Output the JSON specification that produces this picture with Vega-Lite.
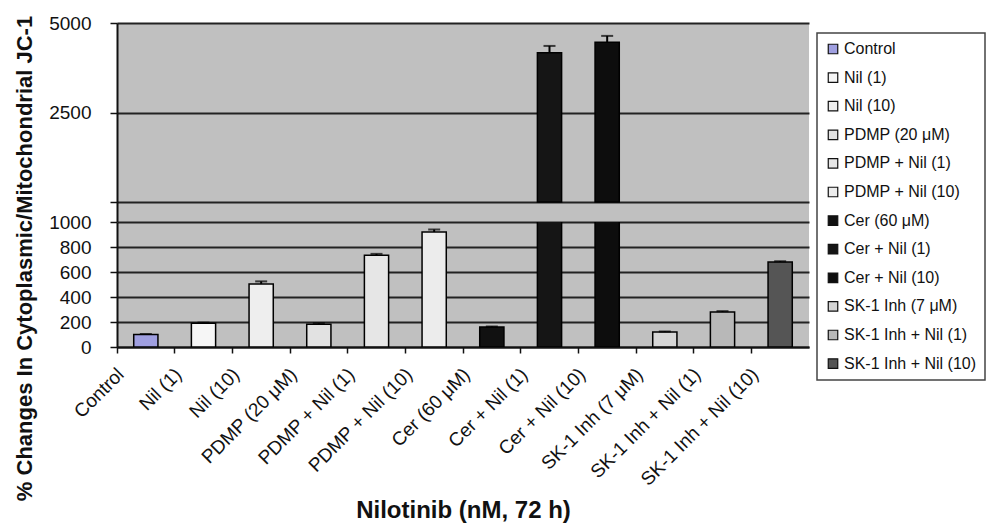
{
  "$schema": "https://vega.github.io/schema/vega-lite/v6.json",
  "background": "#ffffff",
  "padding": {"left": 13, "top": 14, "right": 0, "bottom": 0},
  "bounds": "flush",
  "title": {"text": "% Changes In Cytoplasmic/Mitochondrial JC-1", "orient": "left", "anchor": "middle", "font": "Liberation Sans", "fontSize": 22, "fontWeight": "bold", "color": "#111111", "offset": 12, "dx": 10},
  "data": {"values": [
    {"cat": "Control", "value": 100, "hi": 104},
    {"cat": "Nil (1)", "value": 190, "hi": 195},
    {"cat": "Nil (10)", "value": 505, "hi": 525},
    {"cat": "PDMP (20 μM)", "value": 182, "hi": 190},
    {"cat": "PDMP + Nil (1)", "value": 735, "hi": 745},
    {"cat": "PDMP + Nil (10)", "value": 920, "hi": 940},
    {"cat": "Cer (60 μM)", "value": 160, "hi": 164},
    {"cat": "Cer + Nil (1)", "value": 4170, "hi": 4360},
    {"cat": "Cer + Nil (10)", "value": 4460, "hi": 4640},
    {"cat": "SK-1 Inh (7 μM)", "value": 120, "hi": 124},
    {"cat": "SK-1 Inh + Nil (1)", "value": 280, "hi": 287},
    {"cat": "SK-1 Inh + Nil (10)", "value": 680, "hi": 686}
  ]},
  "spacing": 0,
  "resolve": {"scale": {"x": "shared", "y": "independent", "color": "shared"}},
  "config": {
    "font": "Liberation Sans",
    "view": {"fill": "#c0c0c0", "stroke": null},
    "axis": {"labelFont": "Liberation Sans", "labelColor": "#111111", "titleFont": "Liberation Sans", "titleColor": "#111111"},
    "legend": {"orient": "none", "legendX": 700, "legendY": 10, "strokeColor": "#444444", "strokeWidth": 1.5, "padding": 8, "fillColor": "#ffffff",
      "symbolType": "square", "symbolSize": 90, "symbolStrokeColor": "#111111", "symbolStrokeWidth": 1.2, "symbolOpacity": 1,
      "labelFont": "Liberation Sans", "labelFontSize": 16, "labelColor": "#111111", "labelOffset": 3, "rowPadding": 12.6, "labelLimit": 300}
  },
  "vconcat": [
    {
      "width": 692,
      "height": 199,
      "transform": [{"filter": "datum.value > 1000"}],
      "encoding": {
        "x": {"field": "cat", "type": "nominal", "axis": null,
          "scale": {"domain": ["Control", "Nil (1)", "Nil (10)", "PDMP (20 μM)", "PDMP + Nil (1)", "PDMP + Nil (10)", "Cer (60 μM)", "Cer + Nil (1)", "Cer + Nil (10)", "SK-1 Inh (7 μM)", "SK-1 Inh + Nil (1)", "SK-1 Inh + Nil (10)"], "paddingInner": 0, "paddingOuter": 0}}
      },
      "layer": [
        {
          "mark": {"type": "bar", "width": {"band": 0.42}, "stroke": "#000000", "strokeWidth": 1.5},
          "encoding": {
            "y": {"field": "value", "type": "quantitative", "title": null,
              "scale": {"domain": [-556, 5000], "nice": false, "zero": false},
              "axis": {"values": [0, 2500, 5000], "labelExpr": "datum.value == 0 ? '' : datum.label", "format": "d", "labelOverlap": false, "labelFontSize": 19, "labelPadding": 19,
                "domainColor": "#111111", "domainWidth": 2, "tickColor": "#111111", "tickWidth": 1.5, "tickSize": 7,
                "grid": true, "gridColor": "#222222", "gridWidth": 2}},
            "color": {"field": "cat", "type": "nominal", "title": null,
              "scale": {"domain": ["Control", "Nil (1)", "Nil (10)", "PDMP (20 μM)", "PDMP + Nil (1)", "PDMP + Nil (10)", "Cer (60 μM)", "Cer + Nil (1)", "Cer + Nil (10)", "SK-1 Inh (7 μM)", "SK-1 Inh + Nil (1)", "SK-1 Inh + Nil (10)"],
                "range": ["#9f9fe0", "#f6f6f6", "#eeeeee", "#e2e2e2", "#e6e6e6", "#ececec", "#111111", "#151515", "#0d0d0d", "#d6d6d6", "#b8b8b8", "#555555"]}}
          }
        },
        {
          "mark": {"type": "rule", "color": "#000000", "strokeWidth": 2},
          "encoding": {"y": {"field": "value", "type": "quantitative", "title": null,
              "axis": {"values": [0, 2500, 5000], "labelExpr": "datum.value == 0 ? '' : datum.label", "format": "d", "labelOverlap": false, "labelFontSize": 19, "labelPadding": 19,
                "domainColor": "#111111", "domainWidth": 2, "tickColor": "#111111", "tickWidth": 1.5, "tickSize": 7,
                "grid": true, "gridColor": "#222222", "gridWidth": 2}}, "y2": {"field": "hi"}}
        },
        {
          "mark": {"type": "tick", "color": "#000000", "thickness": 2, "size": 12},
          "encoding": {"y": {"field": "hi", "type": "quantitative", "title": null,
              "axis": {"values": [0, 2500, 5000], "labelExpr": "datum.value == 0 ? '' : datum.label", "format": "d", "labelOverlap": false, "labelFontSize": 19, "labelPadding": 19,
                "domainColor": "#111111", "domainWidth": 2, "tickColor": "#111111", "tickWidth": 1.5, "tickSize": 7,
                "grid": true, "gridColor": "#222222", "gridWidth": 2}}}
        }
      ]
    },
    {
      "width": 692,
      "height": 125,
      "encoding": {
        "x": {"field": "cat", "type": "nominal", "title": "Nilotinib (nM, 72 h)",
          "scale": {"domain": ["Control", "Nil (1)", "Nil (10)", "PDMP (20 μM)", "PDMP + Nil (1)", "PDMP + Nil (10)", "Cer (60 μM)", "Cer + Nil (1)", "Cer + Nil (10)", "SK-1 Inh (7 μM)", "SK-1 Inh + Nil (1)", "SK-1 Inh + Nil (10)"], "paddingInner": 0, "paddingOuter": 0},
          "axis": {"bandPosition": 0, "labelAngle": -45, "labelAlign": "right", "labelBaseline": "middle", "labelFontSize": 19, "labelOffset": -25, "labelPadding": 18,
            "domainColor": "#111111", "domainWidth": 2, "tickColor": "#111111", "tickWidth": 1.5, "tickSize": 6,
            "titleFontSize": 24, "titleFontWeight": "bold", "titlePadding": 10}}
      },
      "layer": [
        {
          "mark": {"type": "bar", "width": {"band": 0.42}, "stroke": "#000000", "strokeWidth": 1.5, "clip": true},
          "encoding": {
            "y": {"field": "value", "type": "quantitative", "title": null,
              "scale": {"domain": [0, 1000], "nice": false},
              "axis": {"values": [0, 200, 400, 600, 800, 1000], "format": "d", "labelOverlap": false, "labelFontSize": 19, "labelPadding": 19,
                "domainColor": "#111111", "domainWidth": 2, "tickColor": "#111111", "tickWidth": 1.5, "tickSize": 7,
                "grid": true, "gridColor": "#222222", "gridWidth": 2}},
            "color": {"field": "cat", "type": "nominal", "title": null}
          }
        },
        {
          "transform": [{"filter": "datum.hi < 1000"}],
          "mark": {"type": "rule", "color": "#000000", "strokeWidth": 2},
          "encoding": {"y": {"field": "value", "type": "quantitative", "title": null,
              "axis": {"values": [0, 200, 400, 600, 800, 1000], "format": "d", "labelOverlap": false, "labelFontSize": 19, "labelPadding": 19,
                "domainColor": "#111111", "domainWidth": 2, "tickColor": "#111111", "tickWidth": 1.5, "tickSize": 7,
                "grid": true, "gridColor": "#222222", "gridWidth": 2}}, "y2": {"field": "hi"}}
        },
        {
          "transform": [{"filter": "datum.hi < 1000"}],
          "mark": {"type": "tick", "color": "#000000", "thickness": 2, "size": 12},
          "encoding": {"y": {"field": "hi", "type": "quantitative", "title": null,
              "axis": {"values": [0, 200, 400, 600, 800, 1000], "format": "d", "labelOverlap": false, "labelFontSize": 19, "labelPadding": 19,
                "domainColor": "#111111", "domainWidth": 2, "tickColor": "#111111", "tickWidth": 1.5, "tickSize": 7,
                "grid": true, "gridColor": "#222222", "gridWidth": 2}}}
        }
      ]
    }
  ]
}
